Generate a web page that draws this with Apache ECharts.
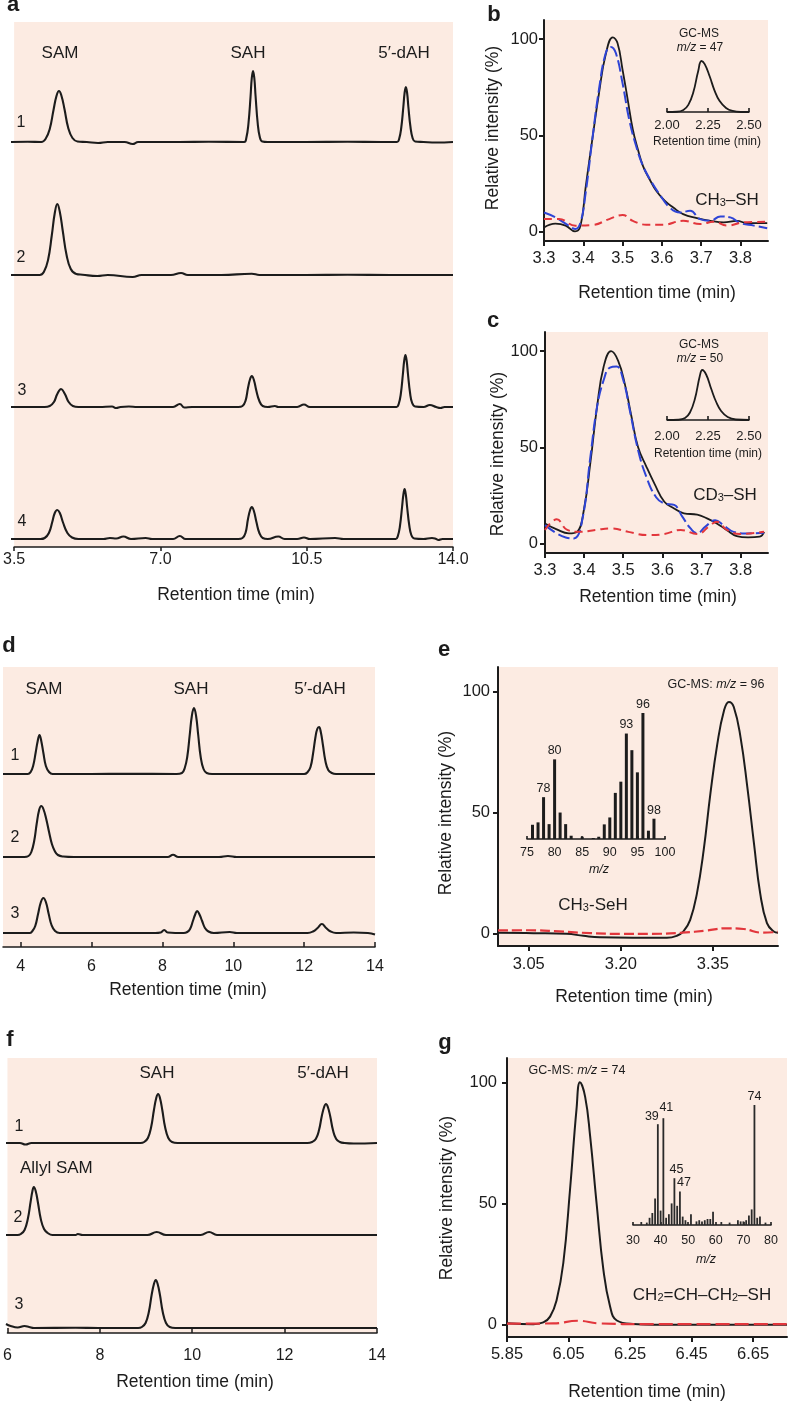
<!DOCTYPE html>
<html><head><meta charset="utf-8">
<script src="https://cdn.jsdelivr.net/npm/echarts@6/dist/echarts.min.js"></script>
<style>html,body{margin:0;padding:0;background:#fff}#c{width:788px;height:1403px}</style>
</head><body><div id="c"></div>
<script>
// ---------------- DATA ----------------
// Panel a: HPLC traces (retention time min, intensity a.u.)
const aTicks = [3.5, 7.0, 10.5, 14.0];
const aTrace1 = [[3.5,0],[3.9,0.3],[4.22,0],[4.32,3],[4.42,13],[4.51,32],[4.58,46],[4.64,51],[4.70,46],[4.77,33],[4.86,14],[4.96,4],[5.08,0.5],[5.3,0],[5.57,-1],[5.8,0],[6.2,0],[6.39,-2],[6.52,0],[7.5,0],[8.2,0.3],[9.04,0],[9.09,4],[9.14,18],[9.19,45],[9.22,64],[9.25,71],[9.28,64],[9.31,46],[9.36,19],[9.41,5],[9.47,0.5],[9.6,0],[10.5,0],[11.5,0.3],[12.3,0],[12.67,0],[12.72,3],[12.77,14],[12.82,35],[12.85,49],[12.88,55],[12.91,49],[12.94,35],[12.99,15],[13.04,4],[13.1,0.5],[13.3,0],[13.6,-0.5],[14,0]];
const aTrace2 = [[3.5,0],[4.18,0],[4.28,3],[4.38,15],[4.47,40],[4.54,62],[4.60,71],[4.66,63],[4.73,44],[4.82,20],[4.92,6],[5.05,1],[5.2,0.3],[5.55,-1],[5.8,0],[6.39,-2],[6.6,0],[7.3,0],[7.54,2],[7.7,0],[8.5,0],[9.22,1.3],[9.4,0],[10.5,0],[11.5,0.3],[12.5,0],[13.5,0],[14,0]];
const aTrace3 = [[3.5,0],[4.3,0],[4.42,1],[4.52,5],[4.6,13],[4.69,18],[4.78,13],[4.87,5],[4.97,1],[5.1,0],[5.6,0],[5.9,0.5],[6.0,-1],[6.1,0],[6.3,0.5],[6.5,0],[7.35,0],[7.51,3],[7.62,-0.5],[7.8,0],[8.9,0],[9.0,1],[9.07,6],[9.13,19],[9.18,28],[9.22,31],[9.27,27],[9.33,16],[9.4,6],[9.48,1],[9.6,0],[9.77,1],[9.85,0],[10.3,0],[10.46,2.5],[10.6,0],[12.5,0],[12.66,0],[12.71,3],[12.76,13],[12.81,33],[12.84,46],[12.87,52],[12.90,46],[12.93,33],[12.98,14],[13.03,4],[13.1,0.5],[13.3,0],[13.45,2],[13.6,0],[13.7,-1],[13.8,0],[14,0]];
const aTrace4 = [[3.5,0],[4.2,0],[4.3,1],[4.4,6],[4.48,17],[4.54,26],[4.6,29],[4.66,26],[4.74,16],[4.84,6],[4.95,1.5],[5.1,0],[5.7,0],[5.85,1],[6.0,0.5],[6.17,2.5],[6.35,0],[6.7,1],[6.85,0],[7.35,0],[7.51,3],[7.65,0],[8.9,0],[9.0,1],[9.07,6],[9.13,20],[9.18,29],[9.22,32],[9.27,28],[9.33,17],[9.4,6],[9.48,1],[9.6,0],[9.85,2.5],[10.0,0],[10.3,0],[10.46,1.5],[10.6,0],[11.2,1],[11.4,0],[12.5,0],[12.64,0],[12.69,3],[12.74,13],[12.79,32],[12.82,44],[12.85,50],[12.88,44],[12.91,32],[12.96,14],[13.01,4],[13.08,0.5],[13.3,0],[13.5,1],[13.6,0],[13.65,-1],[13.75,0],[14,0]];

// Panel b: GC traces (relative intensity %)
const bcTicks = [3.3, 3.4, 3.5, 3.6, 3.7, 3.8];
const relTicks = [0, 50, 100];
const bBlack = [[3.30,2],[3.329,4],[3.355,3],[3.379,0],[3.393,3],[3.406,23],[3.423,48],[3.44,72],[3.457,92],[3.475,101],[3.487,98],[3.50,84],[3.513,68.6],[3.526,53],[3.539,42.6],[3.552,34],[3.569,27],[3.586,21],[3.607,16],[3.629,12.4],[3.654,9],[3.689,6.9],[3.723,5.5],[3.757,4.7],[3.791,5.5],[3.817,4.3],[3.868,4.3]];
const bBlue = [[3.30,9.8],[3.329,7.3],[3.363,3],[3.38,1.2],[3.393,4.7],[3.406,20],[3.423,48],[3.44,74],[3.457,92.7],[3.47,96],[3.483,92.7],[3.50,77],[3.517,58],[3.535,44],[3.552,34],[3.573,26],[3.595,19],[3.62,12.4],[3.646,9.8],[3.672,10.7],[3.697,6.4],[3.723,5.5],[3.749,7.8],[3.774,7.3],[3.80,4.3],[3.834,3],[3.868,1.6]];
const bRed = [[3.30,6.4],[3.338,6.4],[3.38,3],[3.423,3.3],[3.466,6.4],[3.50,8.5],[3.526,5.5],[3.56,3.5],[3.603,3.5],[3.654,5.5],[3.697,3.8],[3.732,5],[3.766,3],[3.809,4.7],[3.868,5]];
const insetTicks = [2.00, 2.25, 2.50];
const bInset = [[2.0,0],[2.06,0.5],[2.1,4],[2.13,14],[2.16,38],[2.19,80],[2.21,100],[2.23,94],[2.26,70],[2.29,42],[2.32,22],[2.36,8],[2.4,2],[2.45,0],[2.5,0]];

// Panel c
const cBlack = [[3.30,10.4],[3.33,7.3],[3.361,5.2],[3.382,6],[3.399,17],[3.416,42],[3.433,71],[3.45,92],[3.469,100],[3.487,95],[3.504,83],[3.521,66],[3.538,50],[3.559,40],[3.58,31],[3.605,21.7],[3.63,18.2],[3.655,15.6],[3.689,15],[3.714,13],[3.739,10.4],[3.765,6.9],[3.79,3.8],[3.819,3.1],[3.849,3.5],[3.86,6]];
const cBlue = [[3.30,9.5],[3.33,5.2],[3.353,3.1],[3.374,2.6],[3.395,12],[3.416,45],[3.433,71],[3.45,85],[3.466,91.5],[3.483,92],[3.5,85],[3.517,69],[3.538,48.5],[3.559,34.7],[3.584,24],[3.605,20.8],[3.63,20],[3.651,13.9],[3.672,7.8],[3.689,5.2],[3.71,8.7],[3.735,12],[3.756,9.5],[3.782,6],[3.815,5.2],[3.86,5.5]];
const cRed = [[3.30,7],[3.33,12.5],[3.357,7],[3.387,6],[3.429,7],[3.47,7.8],[3.513,6],[3.563,4.3],[3.605,4.9],[3.647,7],[3.689,4.9],[3.723,9.5],[3.739,11.3],[3.765,7],[3.798,4.9],[3.86,6]];
const cInset = [[2.0,0],[2.07,0.5],[2.11,4],[2.14,15],[2.17,42],[2.2,88],[2.215,100],[2.24,90],[2.27,62],[2.3,36],[2.33,18],[2.37,6],[2.42,1],[2.5,0]];

// Panel d
const dTicks = [4, 6, 8, 10, 12, 14];
const dTrace1 = [[3.5,0],[4.2,0],[4.28,2],[4.35,8],[4.42,21],[4.48,33],[4.53,39],[4.58,33],[4.64,21],[4.71,8],[4.8,2],[4.9,0],[6,0],[7,0.3],[8.4,0],[8.55,1],[8.63,6],[8.7,17],[8.77,39],[8.83,58],[8.89,66],[8.95,58],[9.01,39],[9.08,17],[9.16,5],[9.25,1],[9.4,0],[11,0],[12.0,0],[12.1,2],[12.18,7],[12.25,20],[12.32,37],[12.37,45],[12.42,47],[12.47,42],[12.53,29],[12.6,13],[12.68,4],[12.78,1],[12.9,0],[14,0]];
const dTrace2 = [[3.5,0],[4.1,0],[4.22,1],[4.3,5],[4.38,16],[4.45,33],[4.52,47],[4.58,51],[4.64,48],[4.72,38],[4.8,25],[4.88,13],[4.96,6],[5.05,2],[5.2,0.5],[5.5,0],[7.5,0],[8.15,0],[8.3,2.3],[8.45,0],[9.6,0],[9.85,1],[10.1,0],[14,0]];
const dTrace3 = [[3.5,0],[4.25,0],[4.33,2],[4.41,7],[4.49,19],[4.57,31],[4.64,35],[4.71,31],[4.79,19],[4.87,8],[4.97,2],[5.1,0],[7.8,0],[7.95,0.5],[8.05,3],[8.15,0.5],[8.6,0],[8.7,1],[8.78,4],[8.86,12],[8.93,19],[8.98,22],[9.04,19],[9.12,12],[9.2,5],[9.3,1.5],[9.45,0],[9.9,1],[10.1,0],[12.1,0],[12.25,1.5],[12.38,5],[12.5,9],[12.62,5],[12.75,1.5],[12.9,0],[13.4,0.5],[13.8,0],[14,-1.5]];

// Panel e
const eTicks = [3.05, 3.20, 3.35];
const eBlack = [[3.0,0.5],[3.058,0.3],[3.112,0],[3.139,-0.8],[3.166,-1.4],[3.22,-1.6],[3.275,-1.6],[3.291,-0.8],[3.302,1],[3.313,5.8],[3.324,16.7],[3.335,34.6],[3.346,58],[3.357,78],[3.368,92],[3.376,95.6],[3.384,93.5],[3.395,81],[3.406,60.6],[3.417,37],[3.427,16.7],[3.438,4.4],[3.449,1],[3.456,0.5]];
const eRed = [[3.0,1.4],[3.05,1.5],[3.1,1],[3.15,0.3],[3.2,0],[3.25,0],[3.3,0.5],[3.34,1.4],[3.37,2.3],[3.40,2],[3.43,0.5],[3.456,0.8]];
const eMzTicks = [75, 80, 85, 90, 95, 100];
const eMz = [76,77,78,79,80,81,82,83,85,87,88,89,90,91,92,93,94,95,96,97,98];
const eAbund = [11.3,13.2,33.2,11.8,63.2,21,11.8,2.6,1.8,0.8,1.8,11.6,17.1,36.6,45.5,83.7,70.5,52.9,100,6.6,16.1];
const eLabeled = [78, 80, 93, 96, 98];

// Panel f
const fTicks = [6, 8, 10, 12, 14];
const fTrace1 = [[6,0],[6.3,0],[6.42,-1.5],[6.55,0],[7,0],[8,0],[8.9,0],[8.98,1],[9.06,5],[9.13,16],[9.19,33],[9.24,45],[9.28,49],[9.32,45],[9.37,33],[9.43,16],[9.5,5],[9.58,1],[9.7,0],[11,0],[12.5,0],[12.6,1],[12.68,4],[12.75,13],[12.81,27],[12.86,36],[12.9,39],[12.94,36],[12.99,27],[13.05,13],[13.12,4],[13.2,1],[13.3,0],[13.5,-0.5],[14,0]];
const fTrace2 = [[6,0],[6.25,0],[6.32,1],[6.4,5],[6.47,16],[6.53,33],[6.57,44],[6.6,48],[6.64,44],[6.69,32],[6.75,16],[6.82,6],[6.9,2],[7.0,0],[7.5,0],[7.55,1],[7.65,0],[9.05,0],[9.25,3],[9.45,0],[10.2,0],[10.38,3],[10.55,0],[14,0]];
const fTrace3 = [[6,4],[6.1,2],[6.25,0.5],[6.4,2],[6.5,1],[6.6,0],[7.5,0.3],[8,0],[8.85,0],[8.93,1],[9.01,5],[9.08,16],[9.14,33],[9.19,44],[9.23,48],[9.27,44],[9.32,33],[9.38,16],[9.45,5],[9.53,1],[9.65,0],[12,0],[14,0]];

// Panel g
const gTicks = [5.85, 6.05, 6.25, 6.45, 6.65];
const gBlack = [[5.85,0.7],[5.936,0.3],[5.968,1],[5.99,3.4],[6.011,10],[6.033,25.5],[6.055,56],[6.076,89],[6.087,100],[6.104,94],[6.12,78],[6.142,49],[6.163,23],[6.185,7.6],[6.207,1.8],[6.26,0.4],[6.4,0],[6.6,0],[6.76,0]];
const gRed = [[5.85,0.5],[6.0,0.6],[6.08,1.7],[6.15,0.6],[6.3,0.3],[6.5,0.3],[6.76,0.3]];
const gMzTicks = [30, 40, 50, 60, 70, 80];
const gMz = [33,35,36,37,38,39,40,41,42,43,44,45,46,47,48,49,51,53,54,55,56,57,58,59,62,65,68,69,70,71,72,73,74,75,76,78];
const gAbund = [2.5,2,6,10,22,84,12,89,6,9,18,39,16,28,7,4,9,3,4,3,4,5,5,11,2.5,2,4,3,3,4,8,13,100,6,7,2];
const gLabeled = [39, 41, 45, 47, 74];

// ---------------- STYLE / BUILD ----------------
const FONT = '"Liberation Sans", Arial, Helvetica, "DejaVu Sans", sans-serif';
const BG = '#fcebe2';
const INK = '#1c1c1c';
const BLUE = '#2e44d6';
const RED = '#e2363c';

const grids = [], xAxes = [], yAxes = [], series = [], graphic = [];

function addGrid(box, xa, ya, bg) {
  const i = grids.length;
  grids.push({left: box[0], top: box[1], width: box[2], height: box[3], show: !!bg,
    backgroundColor: bg || 'transparent', borderWidth: 0, borderColor: 'transparent', containLabel: false});
  xAxes.push(Object.assign({gridIndex: i, type: 'value'}, xa));
  yAxes.push(Object.assign({gridIndex: i, type: 'value'}, ya));
  return i;
}
const hidden = (min, max) => ({show: false, min: min, max: max, splitLine: {show: false}});

function tickAxis(min, max, ticks, fmt, o) {
  o = o || {};
  const lw = o.lw || 1.5;
  return {
    show: true, min: min, max: max, position: o.position || 'bottom',
    axisLine: {show: true, onZero: false, lineStyle: {color: INK, width: lw}},
    axisTick: {show: true, inside: !!o.inside, length: o.tickLen || 5, customValues: ticks,
      lineStyle: {color: INK, width: lw}},
    axisLabel: {show: true, customValues: ticks, formatter: fmt, fontSize: o.fs || 16,
      fontFamily: FONT, color: INK, margin: o.margin == null ? 7 : o.margin},
    splitLine: {show: false}
  };
}

function addLine(gi, data, style) {
  series.push({type: 'line', xAxisIndex: gi, yAxisIndex: gi, data: data,
    showSymbol: false, symbol: 'none', smooth: 0.45, silent: true, animation: false,
    z: (style && style.z) || 3,
    lineStyle: Object.assign({color: INK, width: 2}, style || {})});
}

function T(x, y, text, size, o) {
  o = o || {};
  const st = {text: text, fontSize: size, fontFamily: FONT,
    fontWeight: o.bold ? 'bold' : 'normal', fontStyle: o.italic ? 'italic' : 'normal',
    fill: INK, align: o.align || 'center', verticalAlign: 'middle',
    textAlign: o.align || 'center', textVerticalAlign: 'middle'};
  if (o.rich) st.rich = o.rich;
  graphic.push({type: 'text', x: x, y: y, rotation: o.rot || 0, z: 100, silent: true, style: st});
}
const sub = (size) => ({m: {fontSize: size, fontFamily: FONT, fill: INK, color: INK},
  s: {fontSize: Math.round(size * 0.66), fontFamily: FONT, fill: INK, color: INK, lineHeight: 2, verticalAlign: 'bottom'}});
const ital = (size) => ({n: {fontSize: size, fontFamily: FONT, fill: INK, color: INK},
  i: {fontSize: size, fontFamily: FONT, fontStyle: 'italic', fill: INK, color: INK}});

const f1 = v => v.toFixed(1), f2 = v => v.toFixed(2), f0 = v => String(Math.round(v));

// ---- Panel a ----
addGrid([11, 22, 442, 525], tickAxis(3.5, 14, aTicks, f1, {margin: 5, tickLen: 4}), hidden(0, 1), BG);
[aTrace1, aTrace2, aTrace3, aTrace4].forEach((d, k) => {
  const base = [142, 275, 407, 539][k];
  const gi = addGrid([11, base - 75, 442, 80], hidden(3.5, 14), hidden(-5, 75));
  addLine(gi, d, {width: 2.1});
});
T(13, 5, 'a', 22, {bold: true});
T(60, 53, 'SAM', 17); T(248, 53, 'SAH', 17); T(404, 53, '5\u2032-dAH', 17);
T(21, 123, '1', 16); T(21, 258, '2', 16); T(22, 391, '3', 16); T(22, 522, '4', 16);
T(236, 595, 'Retention time (min)', 17.5);

// ---- Panel b ----
function mainYAxis(margin) {
  return tickAxis(-5, 110, relTicks, f0, {position: 'left', margin: margin, lw: 2, fs: 16.5});
}
let gi = addGrid([544, 20, 224, 221], tickAxis(3.3, 3.87, bcTicks, f1, {margin: 9, lw: 2, fs: 16.5}), mainYAxis(6), BG);
addLine(gi, bBlack, {width: 1.8, color: INK, z: 3});
addLine(gi, bBlue, {width: 2, color: BLUE, type: [12, 4], z: 4});
addLine(gi, bRed, {width: 2, color: RED, type: [8, 5], z: 5});
gi = addGrid([667, 61, 82, 51], tickAxis(2.0, 2.5, insetTicks, f2, {margin: 7, lw: 1.6, inside: true, tickLen: 4, fs: 13}), hidden(0, 100));
addLine(gi, bInset, {width: 1.8});
T(494, 15, 'b', 22, {bold: true});
T(699, 34, 'GC-MS', 12);
T(700, 48, '{i|m/z}{n| = 47}', 12, {rich: ital(12)});
T(707, 142, 'Retention time (min)', 12);
T(727, 200, '{m|CH}{s|3}{m|\u2013SH}', 17, {rich: sub(17)});
T(657, 293, 'Retention time (min)', 17.5);
T(493, 128, 'Relative intensity (%)', 17.5, {rot: Math.PI / 2});

// ---- Panel c ----
gi = addGrid([545, 332, 223, 221], tickAxis(3.3, 3.87, bcTicks, f1, {margin: 9, lw: 2, fs: 16.5}), mainYAxis(7), BG);
addLine(gi, cBlack, {width: 1.8, color: INK, z: 3});
addLine(gi, cBlue, {width: 2, color: BLUE, type: [12, 4], z: 4});
addLine(gi, cRed, {width: 2, color: RED, type: [8, 5], z: 5});
gi = addGrid([667, 370, 82, 50], tickAxis(2.0, 2.5, insetTicks, f2, {margin: 10, lw: 1.6, inside: true, tickLen: 4, fs: 13}), hidden(0, 100));
addLine(gi, cInset, {width: 1.8});
T(493, 321, 'c', 22, {bold: true});
T(699, 345, 'GC-MS', 12);
T(700, 359, '{i|m/z}{n| = 50}', 12, {rich: ital(12)});
T(708, 454, 'Retention time (min)', 12);
T(725, 495, '{m|CD}{s|3}{m|\u2013SH}', 17, {rich: sub(17)});
T(658, 597, 'Retention time (min)', 17.5);
T(498, 454, 'Relative intensity (%)', 17.5, {rot: Math.PI / 2});

// ---- Panel d ----
addGrid([3, 667, 372, 280], tickAxis(3.5, 14, dTicks, f0, {margin: 12, inside: true, tickLen: 5, fs: 16}), hidden(0, 1), BG);
[dTrace1, dTrace2, dTrace3].forEach((d, k) => {
  const base = [774, 857, 933][k];
  const g = addGrid([3, base - 75, 372, 80], hidden(3.5, 14), hidden(-5, 75));
  addLine(g, d, {width: 2.1});
});
T(9, 646, 'd', 22, {bold: true});
T(44, 689, 'SAM', 17); T(191, 689, 'SAH', 17); T(320, 689, '5\u2032-dAH', 17);
T(15, 756, '1', 16); T(15, 838, '2', 16); T(15, 914, '3', 16);
T(188, 990, 'Retention time (min)', 17.5);

// ---- Panel e ----
gi = addGrid([498, 667, 280, 279], tickAxis(3.0, 3.456, eTicks, f2, {margin: 10, lw: 2, fs: 16.5}), mainYAxis(8), BG);
addLine(gi, eBlack, {width: 2, z: 3});
addLine(gi, eRed, {width: 2.2, color: RED, type: [10, 4], z: 4});
gi = addGrid([527, 713, 138, 126], tickAxis(75, 100, eMzTicks, f0, {margin: 7, lw: 1.6, inside: true, tickLen: 3, fs: 12.5}), hidden(0, 100));
series.push({type: 'bar', xAxisIndex: gi, yAxisIndex: gi, barWidth: 3, silent: true, animation: false,
  data: eMz.map((m, i) => [m, eAbund[i]]), itemStyle: {color: INK},
  label: {show: true, position: 'top', distance: 2, fontSize: 12.5, fontFamily: FONT, color: INK,
    formatter: p => eLabeled.indexOf(p.value[0]) >= 0 ? String(p.value[0]) : ''}});
T(444, 650, 'e', 22, {bold: true});
T(716, 685, '{n|GC-MS: }{i|m/z}{n| = 96}', 12.5, {rich: ital(12.5)});
T(599, 870, 'm/z', 12.5, {italic: true});
T(593, 905, '{m|CH}{s|3}{m|-SeH}', 17, {rich: sub(17)});
T(634, 997, 'Retention time (min)', 17.5);
T(446, 813, 'Relative intensity (%)', 17.5, {rot: Math.PI / 2});

// ---- Panel f ----
addGrid([6, 1058, 371, 275], tickAxis(6, 14, fTicks, f0, {margin: 15, inside: true, tickLen: 5, fs: 16}), hidden(0, 1), BG);
[fTrace1, fTrace2, fTrace3].forEach((d, k) => {
  const base = [1143, 1235, 1328][k];
  const g = addGrid([6, base - 75, 371, 80], hidden(6, 14), hidden(-5, 75));
  addLine(g, d, {width: 2.1});
});
T(10, 1040, 'f', 22, {bold: true});
T(157, 1073, 'SAH', 17); T(323, 1073, '5\u2032-dAH', 17);
T(20, 1168, 'Allyl SAM', 17, {align: 'left'});
T(19, 1127, '1', 16); T(18, 1218, '2', 16); T(19, 1305, '3', 16);
T(195, 1382, 'Retention time (min)', 17.5);

// ---- Panel g ----
gi = addGrid([507, 1058, 280, 279], tickAxis(5.85, 6.76, gTicks, f2, {margin: 9, lw: 2, fs: 16.5}), mainYAxis(10), BG);
addLine(gi, gBlack, {width: 2, z: 3});
addLine(gi, gRed, {width: 2.2, color: RED, type: [14, 5], z: 4});
gi = addGrid([633, 1105, 138, 120], tickAxis(30, 80, gMzTicks, f0, {margin: 9, lw: 1.6, inside: true, tickLen: 3, fs: 12.5}), hidden(0, 100));
const gLabelShift = {39: [-6, 1], 41: [3, -2], 45: [2, 0], 47: [4, 0], 74: [0, 0]};
series.push({type: 'bar', xAxisIndex: gi, yAxisIndex: gi, barWidth: 1.8, silent: true, animation: false,
  data: gMz.map((m, i) => ({value: [m, gAbund[i]],
    label: gLabeled.indexOf(m) >= 0 ? {show: true, offset: gLabelShift[m]} : {show: false}})),
  itemStyle: {color: '#2a2a2a'},
  label: {show: true, position: 'top', distance: 2, fontSize: 12.5, fontFamily: FONT, color: INK,
    formatter: p => String(p.value[0])}});
T(445, 1043, 'g', 22, {bold: true});
T(577, 1071, '{n|GC-MS: }{i|m/z}{n| = 74}', 12.5, {rich: ital(12.5)});
T(706, 1260, 'm/z', 12.5, {italic: true});
T(702, 1295, '{m|CH}{s|2}{m|=CH\u2013CH}{s|2}{m|\u2013SH}', 17, {rich: sub(17)});
T(647, 1392, 'Retention time (min)', 17.5);
T(447, 1198, 'Relative intensity (%)', 17.5, {rot: Math.PI / 2});

const chart = echarts.init(document.getElementById('c'), null, {renderer: 'canvas'});
chart.setOption({
  animation: false,
  backgroundColor: '#ffffff',
  grid: grids, xAxis: xAxes, yAxis: yAxes, series: series, graphic: graphic
});
</script></body></html>
